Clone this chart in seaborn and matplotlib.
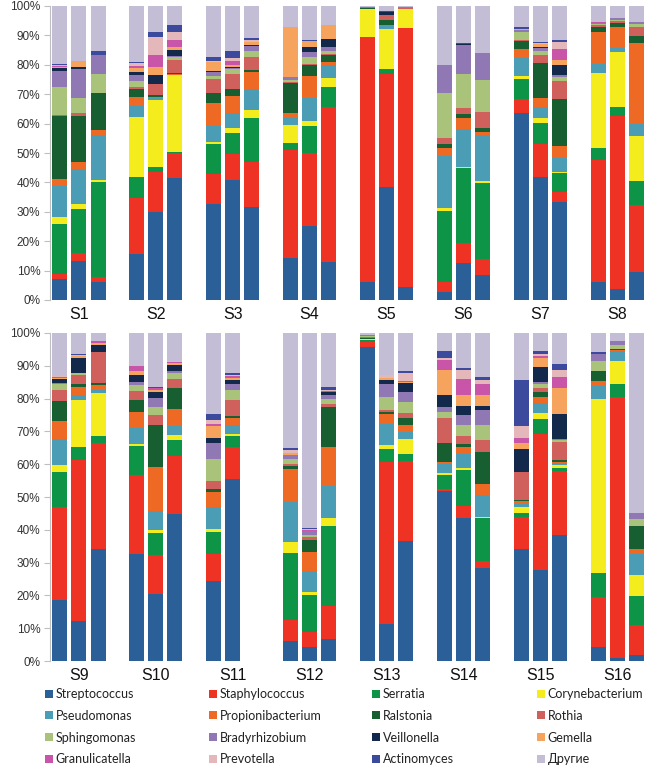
import pandas as pd
import seaborn as sns
import matplotlib.pyplot as plt
from matplotlib.patches import Patch
from matplotlib.ticker import FuncFormatter

sns.set_theme(style="white")
plt.rcParams['font.family'] = ['Liberation Sans', 'DejaVu Sans']

genera = ["Streptococcus", "Staphylococcus", "Serratia", "Corynebacterium",
          "Pseudomonas", "Propionibacterium", "Ralstonia", "Rothia",
          "Sphingomonas", "Bradyrhizobium", "Veillonella", "Gemella",
          "Granulicatella", "Prevotella", "Actinomyces", "Другие"]
colors = ["#2B5F97", "#EE3224", "#0E9447", "#F5EC1D",
          "#4A9DB5", "#EE6A24", "#175E30", "#D0605C",
          "#A9C47A", "#9078B5", "#13294B", "#F6A35E",
          "#C855A8", "#E4B7BB", "#3C4A9E", "#C3BDD6"]

# each bar: percentages in the order of `genera` (bottom to top)
S1 = [[7.0, 2.0, 17.0, 2.3, 10.5, 2.4, 21.4, 0.3, 9.4, 5.7, 0.8, 0.3, 0.5, 0.3, 0.4, 19.7],
      [13.4, 2.7, 14.9, 1.7, 11.7, 2.5, 15.7, 1.1, 4.9, 9.9, 0.9, 1.9, 0, 0, 0, 18.7],
      [6.2, 1.5, 32.5, 0.6, 15.3, 1.7, 12.5, 0, 6.6, 6.4, 0, 0, 0, 0, 1.5, 15.2]]
S2 = [[15.6, 19.2, 7.2, 20.4, 3.6, 3.2, 2.5, 0.6, 2.3, 1.9, 1.2, 1.1, 0.9, 0.8, 0.5, 19.0],
      [29.8, 13.9, 1.4, 22.9, 0.6, 0.3, 0.8, 3.7, 0, 0, 3.1, 2.6, 4.2, 6.0, 1.7, 9.0],
      [41.6, 8.3, 0.6, 26.0, 0, 0.3, 0.3, 4.5, 1.0, 0.5, 2.0, 0.8, 2.6, 2.5, 2.6, 6.4]]
S3 = [[32.7, 10.0, 10.2, 1.0, 5.4, 7.8, 3.4, 4.6, 1.1, 1.5, 0.3, 2.8, 0, 0.4, 1.6, 17.2],
      [40.8, 8.9, 7.2, 1.5, 5.1, 6.0, 2.2, 5.2, 1.6, 0.4, 0.5, 0.5, 1.3, 1.2, 2.2, 15.4],
      [31.7, 15.4, 14.9, 2.6, 7.1, 6.0, 0.5, 4.3, 2.2, 1.8, 0.3, 1.0, 0, 0.6, 0.6, 11.0]]
S4 = [[14.2, 36.8, 2.5, 6.0, 2.3, 1.9, 10.0, 0.5, 0.6, 0.9, 0, 17.0, 0, 0, 0.3, 7.0],
      [25.3, 24.6, 9.4, 1.7, 7.6, 7.6, 3.6, 0.6, 2.1, 2.0, 1.7, 2.0, 0, 0, 0.3, 11.5],
      [13.0, 52.5, 7.1, 3.0, 4.3, 1.2, 2.2, 0.5, 1.0, 1.4, 2.5, 4.8, 0, 0, 0, 6.5]]
S5 = [[6.2, 83.1, 0, 9.6, 0, 0, 0.3, 0.3, 0, 0, 0, 0, 0, 0, 0, 0.5],
      [38.5, 38.4, 1.6, 13.6, 1.4, 0, 1.7, 1.7, 0, 0, 1.2, 0, 0, 0, 0.3, 1.6],
      [4.5, 87.9, 0, 6.5, 0, 0, 0, 0.3, 0, 0.3, 0, 0, 0, 0, 0, 0.5]]
S6 = [[2.8, 3.2, 24.4, 0.8, 17.8, 2.6, 1.5, 1.9, 15.5, 9.4, 0, 0, 0, 0, 0, 20.1],
      [12.5, 6.8, 25.5, 0.6, 12.6, 3.8, 1.5, 1.9, 11.7, 9.8, 0.3, 0, 0, 0, 0.3, 12.7],
      [8.5, 5.3, 26.1, 0.6, 15.6, 1.2, 1.1, 5.4, 11.0, 9.1, 0, 0, 0, 0, 0, 16.1]]
S7 = [[63.5, 4.8, 6.9, 1.0, 6.0, 3.1, 2.9, 0.3, 2.8, 0.4, 0.3, 0.3, 0, 0, 0.5, 7.2],
      [42.0, 11.1, 7.2, 1.5, 3.7, 3.3, 11.7, 2.8, 1.5, 0.8, 0.3, 1.1, 0, 0.3, 0.3, 12.4],
      [33.4, 3.2, 6.7, 0.4, 4.5, 4.3, 15.9, 6.1, 1.2, 0.8, 3.3, 1.8, 3.7, 2.6, 0.5, 11.6]]
S8 = [[6.2, 41.4, 4.2, 25.5, 2.9, 11.1, 1.7, 0.5, 0.3, 0.3, 0, 0, 0.3, 0, 0, 5.6],
      [3.6, 59.1, 2.8, 19.0, 1.3, 7.2, 1.3, 0.5, 0.5, 0.5, 0, 0, 0, 0, 0, 4.2],
      [9.6, 22.7, 8.2, 15.3, 4.1, 27.6, 2.4, 3.1, 0.9, 0.8, 0, 0, 0, 0, 0, 5.3]]
S9 = [[18.7, 28.3, 10.7, 2.2, 7.7, 5.6, 6.1, 3.3, 1.8, 0.3, 1.2, 0.3, 0.3, 0.3, 0, 13.2],
      [12.2, 49.1, 4.0, 14.2, 1.6, 2.3, 1.0, 2.8, 0.5, 0, 4.6, 0.6, 0, 0.3, 0.3, 6.5],
      [34.1, 32.5, 2.0, 13.1, 0.9, 1.5, 0.6, 9.4, 0, 0, 2.2, 0.8, 0.5, 0, 0, 2.4]]
S10 = [[32.6, 24.0, 9.1, 0.4, 4.8, 5.0, 3.6, 2.9, 1.8, 1.0, 2.0, 1.3, 1.3, 0, 0, 10.2],
       [20.5, 11.9, 6.6, 0.8, 5.9, 13.4, 12.8, 3.0, 2.6, 2.8, 1.8, 0.6, 0.4, 0, 0.3, 16.6],
       [44.9, 17.6, 4.9, 1.4, 2.7, 5.3, 6.4, 2.7, 1.9, 0.5, 1.9, 0.6, 0.3, 0.3, 0.2, 8.4]]
S11 = [[24.3, 8.4, 6.5, 0.9, 6.9, 4.5, 0.8, 2.5, 6.7, 4.9, 1.7, 3.4, 0.7, 1.2, 2.0, 24.6],
       [55.4, 9.9, 3.3, 0.5, 2.8, 2.3, 0.5, 4.9, 3.0, 2.0, 1.0, 0.8, 0.5, 0.4, 0.5, 12.2]]
S12 = [[6.1, 6.4, 20.4, 3.3, 12.2, 10.0, 1.0, 0.8, 1.5, 1.0, 0, 0.8, 0, 0.7, 0.6, 35.2],
       [4.4, 4.3, 11.5, 0.7, 6.4, 5.8, 3.9, 0.8, 0.7, 1.1, 0, 0, 0.2, 0.3, 0.3, 59.6],
       [6.6, 10.2, 24.5, 2.3, 9.9, 11.8, 12.2, 0.8, 1.5, 1.2, 0.9, 0, 0.4, 0.4, 0.7, 16.6]]
S13 = [[95.6, 1.7, 0.7, 0.2, 0, 0, 0.2, 0.3, 0.3, 0.3, 0, 0, 0, 0, 0, 0.7],
       [11.3, 49.4, 3.8, 1.4, 6.3, 3.0, 0.7, 0.6, 4.1, 4.0, 1.1, 0.5, 0, 1.0, 0, 12.8],
       [36.5, 24.5, 2.2, 4.4, 2.2, 2.1, 2.3, 1.5, 3.3, 3.1, 2.6, 0.5, 0.3, 2.3, 0.7, 11.5]]
S14 = [[51.8, 0.7, 4.1, 0.6, 3.0, 0.5, 5.7, 7.6, 1.9, 1.4, 3.7, 7.8, 3.0, 0.5, 2.1, 5.6],
       [43.6, 3.8, 10.8, 0.5, 4.3, 2.3, 0.8, 2.5, 3.3, 3.0, 2.7, 3.4, 5.1, 2.7, 0.4, 10.8],
       [28.5, 1.9, 13.2, 0.3, 6.7, 3.5, 9.6, 3.7, 4.5, 4.6, 1.1, 3.5, 3.3, 1.3, 1.0, 13.3]]
S15 = [[34.1, 9.8, 1.1, 2.0, 1.0, 0.7, 0.3, 8.6, 0, 0, 6.9, 2.1, 1.5, 3.6, 14.0, 14.3],
       [27.6, 41.7, 4.6, 1.6, 3.3, 1.7, 1.4, 1.2, 1.5, 0.5, 4.6, 2.6, 0.8, 0.5, 1.0, 5.4],
       [38.5, 19.4, 0.8, 1.2, 0.5, 0.3, 0.5, 5.6, 0.5, 0.5, 7.6, 7.7, 3.5, 2.1, 2.0, 9.3]]
S16 = [[4.4, 15.1, 7.3, 53.0, 4.1, 1.5, 3.1, 0, 3.0, 2.1, 0, 0, 0, 0, 0.5, 5.9],
       [1.0, 79.6, 3.8, 7.1, 2.9, 0.4, 0.3, 0, 1.2, 1.4, 0, 0, 0, 0, 0, 2.3],
       [1.8, 9.2, 8.9, 6.4, 6.4, 1.4, 7.0, 0, 2.2, 1.9, 0, 0, 0, 0, 0, 54.8]]

top_samples = ["S1", "S2", "S3", "S4", "S5", "S6", "S7", "S8"]
bottom_samples = ["S9", "S10", "S11", "S12", "S13", "S14", "S15", "S16"]
samples = {"S1": S1, "S2": S2, "S3": S3, "S4": S4, "S5": S5, "S6": S6,
           "S7": S7, "S8": S8, "S9": S9, "S10": S10, "S11": S11, "S12": S12,
           "S13": S13, "S14": S14, "S15": S15, "S16": S16}

rows = []
for panel, names in enumerate([top_samples, bottom_samples]):
    for g, name in enumerate(names):
        for r, bar in enumerate(samples[name]):
            for genus, v in zip(genera, bar):
                rows.append({"panel": panel, "pos": g * 4 + r, "genus": genus, "value": v})
df = pd.DataFrame(rows)

palette = dict(zip(genera, colors))

fig = plt.figure(figsize=(6.48, 7.78), dpi=100)
ax_top = fig.add_axes([50 / 648, 1 - 300 / 778, 1 - 50 / 648, 294 / 778])
ax_bot = fig.add_axes([50 / 648, 1 - 661 / 778, 1 - 50 / 648, 328 / 778])

for panel, (ax, names) in enumerate([(ax_top, top_samples), (ax_bot, bottom_samples)]):
    # seaborn stacks the first hue level on top, so reverse to put Streptococcus at the bottom
    sns.histplot(data=df[df["panel"] == panel], x="pos", weights="value",
                 hue="genus", hue_order=genera[::-1], palette=palette,
                 multiple="stack", discrete=True, shrink=0.78,
                 linewidth=0, alpha=1, legend=False, ax=ax)
    ax.set_xlim(-0.5, 30.6)
    ax.set_ylim(0, 100)
    ax.set_yticks(range(0, 101, 10))
    ax.yaxis.set_major_formatter(FuncFormatter(lambda v, p: f"{v:.0f}%"))
    ax.set_xticks([g * 4 + 1 for g in range(len(names))])
    ax.set_xticklabels(names, fontsize=11.5)
    ax.set_xlabel("")
    ax.set_ylabel("")
    ax.tick_params(axis="x", length=0, pad=5, colors="#111111")
    ax.tick_params(axis="y", left=True, length=4, width=0.8, color="#BFBFBF",
                   labelsize=8.5, labelcolor="#333333", pad=3)
    for side in ["top", "right", "bottom"]:
        ax.spines[side].set_visible(False)
    ax.spines["left"].set_color("#BFBFBF")
    ax.spines["left"].set_linewidth(0.8)

# legend in four columns, row-major order
col_x = [45, 209, 372, 537]
for c in range(4):
    handles = [Patch(facecolor=colors[i], edgecolor="none") for i in range(c, 16, 4)]
    labels = genera[c::4]
    fig.legend(handles, labels, loc="upper left",
               bbox_to_anchor=(col_x[c] / 648, 1 - 688 / 778),
               frameon=False, borderpad=0, borderaxespad=0,
               handlelength=0.6, handleheight=0.6, handletextpad=0.25,
               labelspacing=0.78, labelcolor="#222222",
               prop={"family": ["Lato", "DejaVu Sans"], "size": 9})

fig.savefig("out.png", dpi=100)
